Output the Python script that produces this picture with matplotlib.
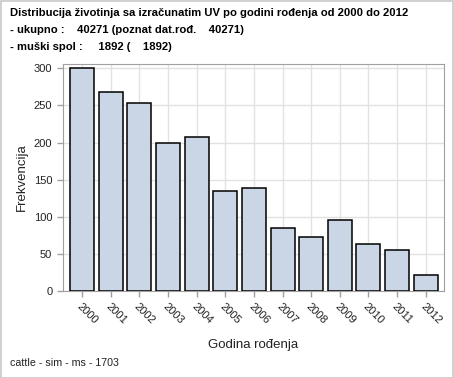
import numpy as np
import matplotlib.pyplot as plt
from matplotlib.patches import Rectangle

plt.rcParams['font.family'] = ['Liberation Sans', 'DejaVu Sans']

years = ['2000', '2001', '2002', '2003', '2004', '2005', '2006',
         '2007', '2008', '2009', '2010', '2011', '2012']
counts = [300, 268, 253, 200, 207, 134, 138, 85, 72, 95, 63, 55, 21]

title_lines = ['Distribucija životinja sa izračunatim UV po godini rođenja od 2000 do 2012',
               '- ukupno :    40271 (poznat dat.rođ.    40271)',
               '- muški spol :     1892 (    1892)']
footer = 'cattle - sim - ms - 1703'

W, H = 454, 378
fig = plt.figure(figsize=(W / 100, H / 100), dpi=100)
ax = fig.add_axes([62.7 / W, 1 - 290.7 / H, (444 - 62.7) / W, (290.7 - 64) / H])

x = np.arange(len(years))
ax.bar(x, counts, width=0.84, color='#CAD5E5', edgecolor='black', linewidth=1.1, zorder=3)

ax.set_xlim(-0.68, 12.64)
ax.set_ylim(0, 306)
ax.set_yticks([0, 50, 100, 150, 200, 250, 300])
ax.set_xticks(x)
ax.set_xticklabels(years, rotation=-45, ha='left', rotation_mode='anchor')
ax.grid(True, color='#E2E2E2', linewidth=1, zorder=0)
ax.set_axisbelow(True)

for s in ax.spines.values():
    s.set_color('#A0A0A0')
ax.tick_params(colors='#A0A0A0', labelcolor='#222222', labelsize=8, length=4, width=1)
ax.tick_params(axis='x', pad=4)

ax.set_xlabel('Godina rođenja', fontsize=9.5, color='#222222', labelpad=9)
ax.set_ylabel('Frekvencija', fontsize=9.5, color='#222222', labelpad=4)

ys = [13, 30, 47]
for t, yy in zip(title_lines, ys):
    fig.text(10 / W, 1 - yy / H, t, fontsize=8.1, fontweight='bold', va='center', ha='left')
fig.text(10 / W, 1 - 363 / H, footer, fontsize=7.7, va='center', ha='left', color='#222222')

fig.patches.append(Rectangle((0.5 / W, 0.5 / H), 1 - 1.5 / W, 1 - 1.5 / H, transform=fig.transFigure,
                             fill=False, edgecolor='#C8C8C8', linewidth=1.2))

fig.savefig('out.png', dpi=100)
